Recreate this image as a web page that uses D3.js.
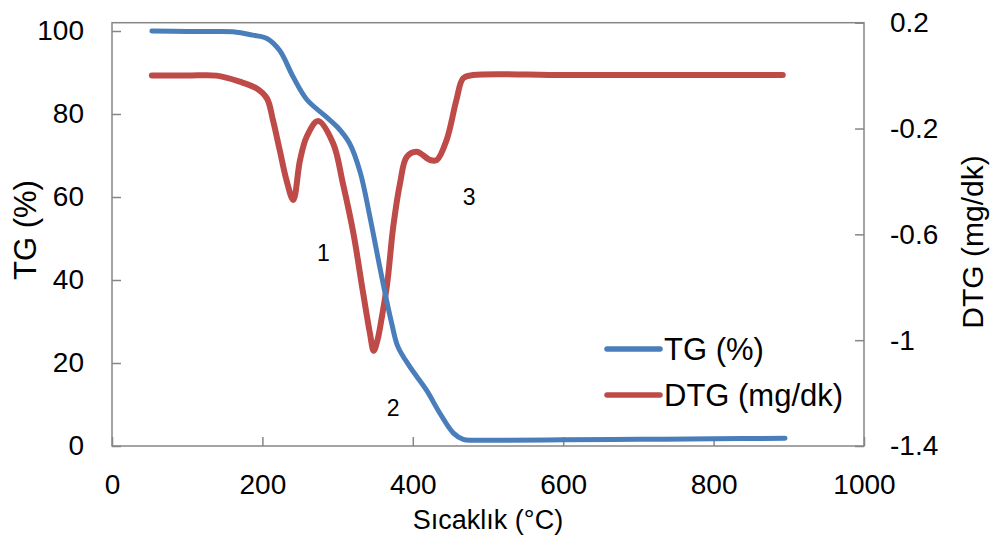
<!DOCTYPE html>
<html><head><meta charset="utf-8">
<script src="https://cdn.jsdelivr.net/npm/d3@7"></script>
<style>
body{margin:0;background:#fff}
svg text{font-family:"Liberation Sans",Arial,sans-serif;fill:#000}
</style>
</head><body><svg id="c" width="995" height="536"></svg>
<script>
// ---- data ----
const tgTemp   = [53,100,140,161,187,206,223,241,259,285,300,316,330,343,356,365,372,380,396,418,436,454,467,480,516,600,700,800,895];
const tgValues = [100,99.9,99.9,99.8,99.0,98.2,95.3,88.9,83.5,79.3,76.8,72.9,66.0,55.2,43.2,35.2,29.5,24.0,19.1,13.5,7.9,3.1,1.6,1.4,1.4,1.5,1.6,1.75,1.85];
const dtgTemp   = [53,100,139,170,192,206,214,223,232,241,250,259,274,294,307,321,334,343,348,353,359,366,374,383,392,405,423,432,445,458,467,480,600,750,892];
const dtgValues = [0.0,0.0,0.0,-0.023,-0.048,-0.086,-0.168,-0.281,-0.395,-0.47,-0.32,-0.23,-0.172,-0.256,-0.407,-0.596,-0.823,-0.974,-1.04,-1.0,-0.91,-0.785,-0.571,-0.407,-0.307,-0.288,-0.319,-0.319,-0.243,-0.092,-0.01,0.002,0.002,0.002,0.002];
const xTicks   = [0,200,400,600,800,1000];
const tgTicks  = [0,20,40,60,80,100];
const dtgTicks = [0.2,-0.2,-0.6,-1,-1.4];
const seriesNames = ["TG (%)","DTG (mg/dk)"];
const peakLabels = ["1","2","3"];
const peakTemp   = [281,374,475];
const peakTG     = [46.5,9.2,60];

// ---- layout ----
const L=112, R=864, T=22.7, B=446;
const blue="#4A7EBB", red="#BE4B48", axisCol="#868686";
const svg=d3.select("#c");
const x=d3.scaleLinear().domain([0,1000]).range([L,R]);
const yL=d3.scaleLinear().domain([0,102]).range([B,T]);
const yR=d3.scaleLinear().domain([-1.4,0.2]).range([B,T]);

svg.append("rect").attr("x",L).attr("y",T).attr("width",R-L).attr("height",B-T)
  .attr("fill","none").attr("stroke",axisCol).attr("stroke-width",1.5);

function styleAxis(g){
  g.select(".domain").remove();
  g.selectAll(".tick line").attr("stroke",axisCol).attr("stroke-width",1.5);
  g.selectAll(".tick text").attr("font-size",28).attr("font-family","Liberation Sans, Arial, sans-serif").attr("fill","#000");
}
svg.append("g").attr("transform",`translate(${L},0)`)
  .call(d3.axisLeft(yL).tickValues(tgTicks).tickSize(-9).tickPadding(28).tickFormat(d3.format("d")))
  .call(styleAxis);
svg.append("g").attr("transform",`translate(${R},0)`)
  .call(d3.axisRight(yR).tickValues(dtgTicks).tickSize(-9).tickPadding(26).tickFormat(d=>String(+d.toFixed(1))))
  .call(styleAxis);
svg.append("g").attr("transform",`translate(0,${B})`)
  .call(d3.axisBottom(x).tickValues(xTicks).tickSize(-9).tickPadding(28).tickFormat(d3.format("d")))
  .call(styleAxis);

const tgData=tgTemp.map((t,i)=>[t,tgValues[i]]);
const dtgData=dtgTemp.map((t,i)=>[t,dtgValues[i]]);
svg.append("path").datum(dtgData).attr("fill","none").attr("stroke",red).attr("stroke-width",6)
  .attr("stroke-linecap","round").attr("stroke-linejoin","round")
  .attr("d",d3.line().x(d=>x(d[0])).y(d=>yR(d[1])).curve(d3.curveCatmullRom.alpha(0.5)));
svg.append("path").datum(tgData).attr("fill","none").attr("stroke",blue).attr("stroke-width",5)
  .attr("stroke-linecap","round").attr("stroke-linejoin","round")
  .attr("d",d3.line().x(d=>x(d[0])).y(d=>yL(d[1])).curve(d3.curveCatmullRom.alpha(0.5)));

peakLabels.forEach((s,i)=>{
  svg.append("text").attr("x",x(peakTemp[i])).attr("y",yL(peakTG[i])).attr("text-anchor","middle")
    .attr("dominant-baseline","central").attr("font-size",23).attr("font-family","Lato, 'Open Sans', sans-serif").text(s);
});

svg.append("text").attr("x",488).attr("y",529).attr("text-anchor","middle").attr("font-size",27).text("Sıcaklık (°C)");
svg.append("text").attr("transform","translate(36,230) rotate(-90)").attr("text-anchor","middle").attr("font-size",31).text("TG (%)");
svg.append("text").attr("transform","translate(983,242) rotate(-90)").attr("text-anchor","middle").attr("font-size",30).text("DTG (mg/dk)");

const lg=svg.append("g");
[blue,red].forEach((c,i)=>{
  const yy=349+i*46;
  lg.append("line").attr("x1",607).attr("x2",660).attr("y1",yy).attr("y2",yy)
    .attr("stroke",c).attr("stroke-width",5.5).attr("stroke-linecap","round");
  lg.append("text").attr("x",664).attr("y",yy).attr("dominant-baseline","central").attr("font-size",31).text(seriesNames[i]);
});
</script>
</body></html>
